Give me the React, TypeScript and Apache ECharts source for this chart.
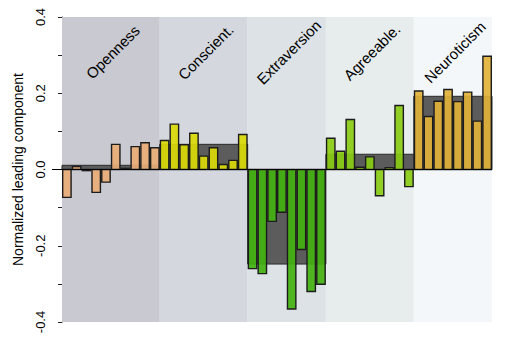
import React, { useEffect, useRef } from "react";
import * as echarts from "echarts";

const groups = ["Openness", "Conscient.", "Extraversion", "Agreeable.", "Neuroticism"];
const openness = [-0.073, 0.008, -0.003, -0.06, -0.033, 0.066, 0.003, 0.06, 0.07, 0.057];
const conscient = [0.076, 0.119, 0.065, 0.095, 0.035, 0.057, 0.013, 0.024, 0.092];
const extraversion = [-0.26, -0.273, -0.136, -0.112, -0.366, -0.21, -0.32, -0.301];
const agreeable = [0.082, 0.048, 0.131, 0.006, 0.033, -0.069, 0.005, 0.168, -0.045];
const neuroticism = [0.206, 0.139, 0.179, 0.21, 0.178, 0.203, 0.127, 0.297];
const groupMeans = [0.011, 0.066, -0.248, 0.04, 0.192];
const yTicks = [-0.4, -0.3, -0.2, -0.1, 0, 0.1, 0.2, 0.3, 0.4];

const bgColors = ["#c9c9d1", "#d4d7de", "#dce2e5", "#e7eded", "#f3f7f9"];
const barColors = [
  "rgba(233,172,118,0.92)",
  "rgba(218,218,8,0.92)",
  "rgba(66,178,16,0.92)",
  "rgba(138,204,18,0.92)",
  "rgba(226,178,56,0.92)",
];
const FONT = "'Liberation Sans', Arial, Helvetica, sans-serif";

export default function App() {
  const ref = useRef<HTMLDivElement>(null);
  useEffect(() => {
    if (!ref.current) return;
    const chart = echarts.init(ref.current, null, { renderer: "svg" });
    const all = [openness, conscient, extraversion, agreeable, neuroticism];
    const barData: number[][] = [];
    const bandData: number[][] = [];
    let idx = 0;
    all.forEach((arr, g) => {
      const start = idx;
      arr.forEach((v) => {
        barData.push([idx, v, g]);
        idx++;
      });
      bandData.push([start, idx, g, groupMeans[g]]);
    });
    const total = idx;

    chart.setOption({
      animation: false,
      grid: { left: 62, right: 17, top: 17, bottom: 17 },
      xAxis: { type: "value", min: 0, max: total, show: false },
      yAxis: {
        type: "value",
        min: yTicks[0],
        max: yTicks[yTicks.length - 1],
        interval: 0.1,
        splitLine: { show: false },
        axisLine: { show: true, lineStyle: { color: "#222", width: 1 } },
        axisTick: { show: true, length: 4, lineStyle: { color: "#222" } },
        axisLabel: {
          rotate: 90,
          margin: 15,
          fontSize: 13,
          fontFamily: FONT,
          color: "#000",
          formatter: (v: number) => (Math.round(v * 10) % 2 === 0 ? v.toFixed(1) : ""),
        },
        name: "Normalized leading component",
        nameLocation: "middle",
        nameRotate: 90,
        nameGap: 37,
        nameTextStyle: { fontSize: 14, fontFamily: FONT, color: "#000" },
      },
      series: [
        {
          type: "custom",
          name: "bands",
          z: 1,
          data: bandData,
          renderItem: (params: any, api: any) => {
            const s = api.value(0);
            const e = api.value(1);
            const g = api.value(2);
            const p0 = api.coord([s, yTicks[yTicks.length - 1]]);
            const p1 = api.coord([e, yTicks[0]]);
            const c = api.coord([(s + e) / 2, 0.308]);
            return {
              type: "group",
              children: [
                {
                  type: "rect",
                  shape: { x: p0[0], y: p0[1], width: p1[0] - p0[0], height: p1[1] - p0[1] },
                  style: { fill: bgColors[g] },
                },
                {
                  type: "text",
                  x: c[0] + 2,
                  y: c[1],
                  rotation: Math.PI / 4,
                  style: {
                    text: groups[g],
                    fontSize: 15,
                    fontFamily: FONT,
                    fill: "#000",
                    align: "center",
                    verticalAlign: "middle",
                  },
                },
              ],
            };
          },
        },
        {
          type: "custom",
          name: "means",
          z: 2,
          data: bandData,
          renderItem: (params: any, api: any) => {
            const s = api.value(0);
            const e = api.value(1);
            const m = api.value(3);
            const p0 = api.coord([s, m]);
            const p1 = api.coord([e, 0]);
            return {
              type: "rect",
              shape: {
                x: p0[0],
                y: Math.min(p0[1], p1[1]),
                width: p1[0] - p0[0],
                height: Math.abs(p1[1] - p0[1]),
              },
              style: { fill: "#5c5c5c", stroke: "#2a2a2a", lineWidth: 1 },
            };
          },
        },
        {
          type: "custom",
          name: "bars",
          z: 3,
          data: barData,
          renderItem: (params: any, api: any) => {
            const i = api.value(0);
            const v = api.value(1);
            const g = api.value(2);
            const p0 = api.coord([i + 0.07, v]);
            const p1 = api.coord([i + 0.93, 0]);
            return {
              type: "rect",
              shape: {
                x: p0[0],
                y: Math.min(p0[1], p1[1]),
                width: p1[0] - p0[0],
                height: Math.abs(p1[1] - p0[1]),
              },
              style: { fill: barColors[g], stroke: "#1c1c1c", lineWidth: 1.4 },
            };
          },
        },
        {
          type: "custom",
          name: "zero",
          z: 4,
          data: [[0]],
          renderItem: (params: any, api: any) => {
            const a = api.coord([0, 0]);
            const b = api.coord([total, 0]);
            return {
              type: "line",
              shape: { x1: a[0] - 10, y1: a[1], x2: b[0], y2: b[1] },
              style: { stroke: "#000", lineWidth: 1.2 },
            };
          },
        },
      ],
    });
    return () => chart.dispose();
  }, []);
  return <div ref={ref} style={{ width: 509, height: 339, position: "absolute", left: 0, top: 0 }} />;
}
